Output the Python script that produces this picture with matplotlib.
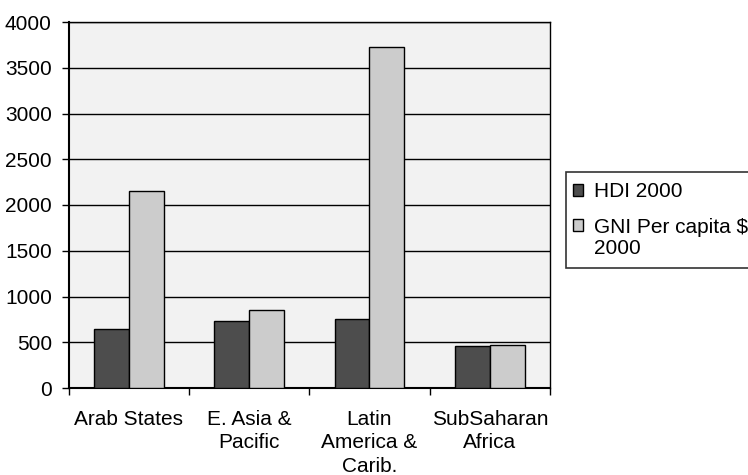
import numpy as np
import matplotlib.pyplot as plt
from matplotlib.patches import Patch, Rectangle
from matplotlib.legend_handler import HandlerPatch

# Données
regions = ['Arab States', 'E. Asia &\nPacific', 'Latin\nAmerica &\nCarib.', 'SubSaharan\nAfrica']
hdi_2000 = [650, 732, 757, 462]
gni_2000 = [2150, 850, 3730, 465]
series_labels = ['HDI 2000', 'GNI Per capita $\n2000']
colors = ['#4d4d4d', '#cccccc']

plt.rcParams['font.family'] = ['Liberation Sans', 'DejaVu Sans']

W, H = 748, 475
fig = plt.figure(figsize=(W / 100, H / 100), dpi=100)
ax = fig.add_axes([68.5 / W, 1 - 388 / H, (550 - 68.5) / W, (388 - 22) / H])
ax.set_facecolor('#f2f2f2')

x = np.arange(len(regions))
w = 0.29
ax.bar(x - w / 2, hdi_2000, w, color=colors[0], edgecolor='black', linewidth=1, zorder=3)
ax.bar(x + w / 2, gni_2000, w, color=colors[1], edgecolor='black', linewidth=1, zorder=3)

ax.set_xlim(-0.5, len(regions) - 0.5)
ax.set_ylim(0, 4000)
ax.set_yticks(np.arange(0, 4001, 500))
ax.yaxis.grid(True, color='black', linewidth=1, zorder=0)
ax.set_axisbelow(True)

# Graduations x aux limites des catégories, étiquettes au centre
ax.set_xticks(np.arange(-0.5, len(regions), 1))
ax.set_xticklabels([])
ax.set_xticks(x, minor=True)
ax.set_xticklabels(regions, minor=True, fontsize=15, va='top', linespacing=1.3)
ax.tick_params(axis='x', which='minor', length=0, pad=15.5)
ax.tick_params(axis='x', which='major', length=5, width=1, direction='out')
ax.tick_params(axis='y', length=5, width=1, direction='out', labelsize=15, pad=7)

for s in ax.spines.values():
    s.set_color('black')
    s.set_linewidth(1)
ax.spines['left'].set_linewidth(1.5)
ax.spines['bottom'].set_linewidth(1.5)


# Carrés de légende un peu à gauche, le second aligné sur la première ligne
def square(legend, orig_handle, xdescent, ydescent, width, height, fontsize):
    return Rectangle((-xdescent - 2.5, -ydescent), width, height)


def top_square(legend, orig_handle, xdescent, ydescent, width, height, fontsize):
    return Rectangle((-xdescent - 2.5, -ydescent + 0.6 * fontsize), width, height)


handles = [Patch(facecolor=c, edgecolor='black', linewidth=1) for c in colors]
leg = fig.legend(handles, series_labels, loc='upper left',
                 bbox_to_anchor=(565.7 / W, 1 - 171.7 / H),
                 fontsize=15, frameon=True, fancybox=False, edgecolor='black',
                 handlelength=0.5, handleheight=0.5, handletextpad=0.34,
                 borderpad=0.5, labelspacing=0.8, borderaxespad=0,
                 handler_map={handles[0]: HandlerPatch(patch_func=square),
                              handles[1]: HandlerPatch(patch_func=top_square)})
leg.get_frame().set_linewidth(1.2)
for t in leg.get_texts():
    t.set_linespacing(1.13)

fig.savefig('out.png', dpi=100, facecolor='white')
